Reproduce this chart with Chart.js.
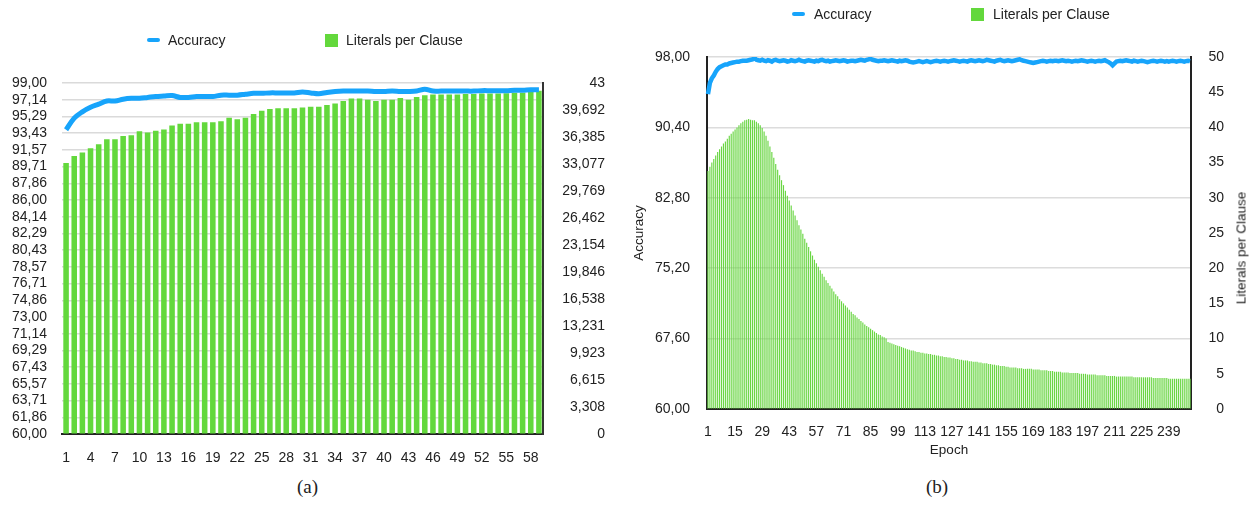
<!DOCTYPE html>
<html>
<head>
<meta charset="utf-8">
<script src="https://cdn.jsdelivr.net/npm/chart.js@4.4.1/dist/chart.umd.min.js"></script>
<style>
	body{ margin:0; width:1251px; height:508px; position:relative; background:#fff; overflow:hidden;
		font-family:'Liberation Sans', Helvetica, Arial, sans-serif; color:#222; }
	.wrap{ position:absolute; top:0; height:470px; }
	.leg{ position:absolute; font-size:14px; line-height:16px; white-space:nowrap; }
	.lineicon{ position:absolute; height:4px; width:13px; background:#17a4fb; border-radius:2px; }
	.boxicon{ position:absolute; width:13px; height:13px; background:#63d83c; }
	.cap{ position:absolute; top:476px; font-family:'Liberation Serif', 'DejaVu Serif', serif; font-size:19px; }
	.vtitle{ position:absolute; font-size:13.5px; font-weight:normal; color:#222; white-space:nowrap; transform:translate(-50%,-50%) rotate(-90deg); }
</style>
</head>
<body>

<div class="wrap" style="left:0; width:615px;"><canvas id="chartA"></canvas></div>
<div class="wrap" style="left:630px; width:621px;"><canvas id="chartB"></canvas></div>

<!-- legenda (a) -->
<div class="lineicon" style="left:147px; top:38px;"></div>
<div class="leg" style="left:168px; top:32px;">Accuracy</div>
<div class="boxicon" style="left:325px; top:34px;"></div>
<div class="leg" style="left:346px; top:32px;">Literals per Clause</div>

<!-- legenda (b) -->
<div class="lineicon" style="left:792px; top:12px;"></div>
<div class="leg" style="left:814px; top:6px;">Accuracy</div>
<div class="boxicon" style="left:971px; top:8px;"></div>
<div class="leg" style="left:993px; top:6px;">Literals per Clause</div>

<div class="vtitle" style="left:1241px; top:248px;">Literals per Clause</div>

<div class="cap" style="left:297px;">(a)</div>
<div class="cap" style="left:926px;">(b)</div>

<script>
// ---- dados (a) ----
var accuracyA = [
	93.8, 95.1, 95.8, 96.3, 96.65, 97.0, 97.0, 97.2, 97.3, 97.3,
	97.4, 97.5, 97.55, 97.6, 97.4, 97.4, 97.5, 97.5, 97.5, 97.65,
	97.65, 97.65, 97.75, 97.85, 97.85, 97.9, 97.9, 97.9, 97.9, 98.0,
	97.9, 97.8, 97.95, 98.05, 98.1, 98.1, 98.1, 98.1, 98.05, 98.05,
	98.1, 98.05, 98.05, 98.1, 98.3, 98.1, 98.1, 98.1, 98.1, 98.1,
	98.1, 98.15, 98.15, 98.15, 98.15, 98.2, 98.2, 98.25, 98.25
];
var literalsA = [
	33.2, 34.05, 34.5, 35.0, 35.5, 36.1, 36.1, 36.5, 36.6, 37.1,
	36.95, 37.15, 37.3, 37.8, 38.0, 38.0, 38.2, 38.2, 38.2, 38.3,
	38.75, 38.55, 38.75, 39.2, 39.6, 39.8, 39.9, 39.9, 39.9, 40.0,
	40.1, 40.1, 40.3, 40.5, 40.8, 41.1, 41.1, 40.95, 40.8, 40.95,
	40.95, 41.15, 40.95, 41.3, 41.5, 41.6, 41.6, 41.6, 41.6, 41.65,
	41.65, 41.7, 41.7, 41.7, 41.75, 41.8, 41.8, 41.9, 42.05
];

// ---- dados (b) ----
var accuracyB = [
	94.0, 95.2, 95.7, 96.0, 96.4, 96.7, 96.9, 97.0, 97.1, 97.2,
	97.2, 97.3, 97.35, 97.4, 97.45, 97.5, 97.5, 97.55, 97.6, 97.6,
	97.6, 97.65, 97.7, 97.75, 97.9, 97.7, 97.65, 97.6, 97.7, 97.6,
	97.55, 97.65, 97.6, 97.5, 97.65, 97.7, 97.6, 97.55, 97.6, 97.65,
	97.6, 97.5, 97.55, 97.65, 97.6, 97.55, 97.6, 97.7, 97.6, 97.55,
	97.5, 97.6, 97.65, 97.6, 97.55, 97.5, 97.6, 97.55, 97.65, 97.7,
	97.6, 97.55, 97.6, 97.5, 97.55, 97.6, 97.65, 97.6, 97.55, 97.6,
	97.65, 97.6, 97.5, 97.55, 97.6, 97.6, 97.55, 97.6, 97.65, 97.7,
	97.65, 97.6, 97.7, 97.75, 97.8, 97.7, 97.65, 97.6, 97.55, 97.6,
	97.6, 97.65, 97.6, 97.55, 97.6, 97.65, 97.6, 97.55, 97.5, 97.6,
	97.55, 97.6, 97.65, 97.6, 97.5, 97.45, 97.4, 97.45, 97.5, 97.55,
	97.5, 97.45, 97.5, 97.55, 97.5, 97.45, 97.5, 97.55, 97.6, 97.55,
	97.5, 97.55, 97.6, 97.55, 97.5, 97.55, 97.6, 97.65, 97.6, 97.55,
	97.5, 97.55, 97.6, 97.55, 97.5, 97.6, 97.65, 97.6, 97.55, 97.6,
	97.65, 97.6, 97.55, 97.6, 97.7, 97.65, 97.6, 97.55, 97.5, 97.6,
	97.65, 97.7, 97.6, 97.55, 97.6, 97.65, 97.6, 97.55, 97.6, 97.65,
	97.7, 97.75, 97.65, 97.6, 97.55, 97.5, 97.45, 97.4, 97.35, 97.4,
	97.45, 97.5, 97.55, 97.6, 97.55, 97.5, 97.55, 97.6, 97.55, 97.6,
	97.6, 97.55, 97.6, 97.65, 97.6, 97.55, 97.6, 97.55, 97.5, 97.55,
	97.6, 97.55, 97.6, 97.65, 97.6, 97.55, 97.5, 97.55, 97.6, 97.55,
	97.5, 97.55, 97.6, 97.55, 97.6, 97.65, 97.55, 97.45, 97.3, 97.1,
	97.3, 97.5, 97.55, 97.6, 97.55, 97.6, 97.65, 97.6, 97.55, 97.5,
	97.6, 97.55, 97.5, 97.55, 97.6, 97.55, 97.5, 97.45, 97.5, 97.55,
	97.6, 97.55, 97.5, 97.55, 97.6, 97.55, 97.5, 97.55, 97.5, 97.55,
	97.6, 97.55, 97.5, 97.55, 97.6, 97.55, 97.5, 97.55, 97.6, 97.55
];
var literalsB = [
	33.8, 34.4, 35.0, 35.5, 36.0, 36.5, 36.9, 37.3, 37.7, 38.0,
	38.4, 38.8, 39.1, 39.4, 39.7, 40.0, 40.3, 40.6, 40.8, 41.0,
	41.1, 41.2, 41.1, 41.0, 41.0, 40.8, 40.6, 40.3, 39.9, 39.4,
	38.8, 38.1, 37.3, 36.5, 35.7, 34.8, 34.0, 33.2, 32.5, 31.8,
	31.0, 30.3, 29.6, 28.9, 28.2, 27.5, 26.8, 26.1, 25.5, 24.9,
	24.2, 23.6, 23.0, 22.4, 21.8, 21.2, 20.7, 20.2, 19.7, 19.2,
	18.8, 18.3, 17.9, 17.5, 17.1, 16.7, 16.3, 16.0, 15.6, 15.3,
	15.0, 14.7, 14.4, 14.1, 13.8, 13.5, 13.3, 13.0, 12.8, 12.5,
	12.3, 12.0, 11.8, 11.6, 11.4, 11.2, 11.0, 10.8, 10.6, 10.5,
	10.3, 10.2, 10.0, 9.5, 9.4, 9.3, 9.2, 9.1, 9.0, 8.9,
	8.8, 8.7, 8.6, 8.5, 8.4, 8.3, 8.3, 8.2, 8.1, 8.1,
	8.0, 8.0, 7.9, 7.9, 7.8, 7.8, 7.7, 7.7, 7.6, 7.6,
	7.5, 7.5, 7.4, 7.4, 7.3, 7.3, 7.2, 7.2, 7.1, 7.1,
	7.0, 7.0, 6.9, 6.9, 6.9, 6.8, 6.8, 6.7, 6.7, 6.7,
	6.6, 6.6, 6.5, 6.5, 6.5, 6.4, 6.4, 6.3, 6.3, 6.2,
	6.2, 6.1, 6.1, 6.1, 6.0, 6.0, 5.9, 5.9, 5.9, 5.9,
	5.8, 5.8, 5.8, 5.7, 5.7, 5.7, 5.7, 5.7, 5.6, 5.6,
	5.6, 5.6, 5.5, 5.5, 5.5, 5.5, 5.4, 5.4, 5.4, 5.3,
	5.3, 5.3, 5.3, 5.2, 5.2, 5.2, 5.2, 5.1, 5.1, 5.1,
	5.1, 5.1, 5.0, 5.0, 5.0, 5.0, 4.9, 4.9, 4.9, 4.9,
	4.9, 4.8, 4.8, 4.8, 4.8, 4.8, 4.7, 4.7, 4.7, 4.7,
	4.7, 4.6, 4.6, 4.6, 4.6, 4.6, 4.6, 4.6, 4.6, 4.6,
	4.5, 4.5, 4.5, 4.5, 4.5, 4.5, 4.5, 4.5, 4.5, 4.5,
	4.4, 4.4, 4.4, 4.4, 4.4, 4.4, 4.4, 4.4, 4.3, 4.3,
	4.3, 4.3, 4.3, 4.3, 4.3, 4.3, 4.3, 4.3, 4.3, 4.3
];

// epocas (categorias)
var epochsA = [];
for(var i = 1; i <= accuracyA.length; i++){ epochsA.push(String(i)); }
var epochsB = [];
for(var i = 1; i <= accuracyB.length; i++){ epochsB.push(String(i)); }

var azul = '#17a4fb';
var verde = '#63d83c';
var fonte = { family: "'Liberation Sans', Helvetica, Arial, sans-serif", size: 14 };

function virgula(v, casas){
	return Number(v.toFixed(casas)).toString().replace('.', ',');
}

function largura(w){ return function(s){ s.width = w; }; }
function altura(h){ return function(s){ s.height = h; }; }

Chart.defaults.color = '#222';
Chart.defaults.animation = false;

// ---------- grafico (a) ----------
new Chart(document.getElementById('chartA'), {
	type: 'bar',
	data: {
		labels: epochsA,
		datasets: [{
			type: 'line',
			label: 'Accuracy',
			data: accuracyA,
			yAxisID: 'y',
			borderColor: azul,
			borderWidth: 5,
			pointRadius: 0,
			tension: 0.35,
			order: 0
		}, {
			label: 'Literals per Clause',
			data: literalsA,
			yAxisID: 'y1',
			backgroundColor: verde,
			barPercentage: 0.68,
			categoryPercentage: 1,
			order: 1
		}]
	},
	options: {
		responsive: true,
		maintainAspectRatio: false,
		layout: { padding: { top: 83, left: 0, right: 10, bottom: 0 } },
		plugins: { legend: { display: false }, tooltip: { enabled: false } },
		scales: {
			x: {
				afterFit: altura(36),
				grid: { display: false },
				border: { color: '#222', width: 2 },
				ticks: {
					font: fonte, padding: 8, maxRotation: 0, autoSkip: false,
					callback: function(v, idx){ return idx % 3 === 0 ? epochsA[idx] : ''; }
				}
			},
			y: {
				position: 'left',
				min: 60, max: 99,
				afterFit: largura(62),
				grid: { color: '#dadada', lineWidth: 1.5, drawTicks: false },
				border: { display: false },
				ticks: {
					font: fonte, padding: 15, count: 22, maxTicksLimit: 40, autoSkip: false,
					callback: function(v){ return v.toFixed(2).replace('.', ','); }
				}
			},
			y1: {
				position: 'right',
				min: 0, max: 43,
				afterFit: largura(62),
				grid: { drawOnChartArea: false, drawTicks: false },
				border: { color: '#333', width: 2 },
				ticks: {
					font: fonte, padding: 18, count: 14, maxTicksLimit: 40, autoSkip: false, crossAlign: 'far',
					callback: function(v){ return virgula(v, 3); }
				}
			}
		}
	}
});

// ---------- grafico (b) ----------
new Chart(document.getElementById('chartB'), {
	type: 'bar',
	data: {
		labels: epochsB,
		datasets: [{
			type: 'line',
			label: 'Accuracy',
			data: accuracyB,
			yAxisID: 'y',
			borderColor: azul,
			borderWidth: 4.5,
			pointRadius: 0,
			tension: 0,
			order: 0
		}, {
			label: 'Literals per Clause',
			data: literalsB,
			yAxisID: 'y1',
			backgroundColor: '#6ad644',
			barPercentage: 0.6,
			categoryPercentage: 1,
			order: 1
		}]
	},
	options: {
		responsive: true,
		maintainAspectRatio: false,
		layout: { padding: { top: 57, left: 0, right: 27, bottom: 0 } },
		plugins: { legend: { display: false }, tooltip: { enabled: false } },
		scales: {
			x: {
				afterFit: altura(61),
				grid: { display: false },
				border: { color: '#222', width: 2 },
				title: { display: true, text: 'Epoch', font: { family: fonte.family, size: 13.5 }, padding: { top: 4, bottom: 12 } },
				ticks: {
					font: fonte, padding: 7, maxRotation: 0, autoSkip: false,
					callback: function(v, idx){ return idx % 14 === 0 ? epochsB[idx] : ''; }
				}
			},
			y: {
				position: 'left',
				min: 60, max: 98,
				z: 1,
				afterFit: largura(77),
				grid: { color: '#dcdcdc', lineWidth: 1.5, drawTicks: false },
				border: { color: '#222', width: 2 },
				title: { display: true, text: 'Accuracy', font: { family: fonte.family, size: 13.5 }, padding: { top: 1, bottom: 0 } },
				ticks: {
					font: fonte, padding: 17, count: 6, autoSkip: false,
					callback: function(v){ return v.toFixed(2).replace('.', ','); }
				}
			},
			y1: {
				position: 'right',
				min: 0, max: 50,
				afterFit: largura(33),
				grid: { drawOnChartArea: false, drawTicks: false },
				border: { color: '#222', width: 2 },
				ticks: {
					font: fonte, padding: 14, stepSize: 5, autoSkip: false, crossAlign: 'far'
				}
			}
		}
	}
});
</script>
</body>
</html>
